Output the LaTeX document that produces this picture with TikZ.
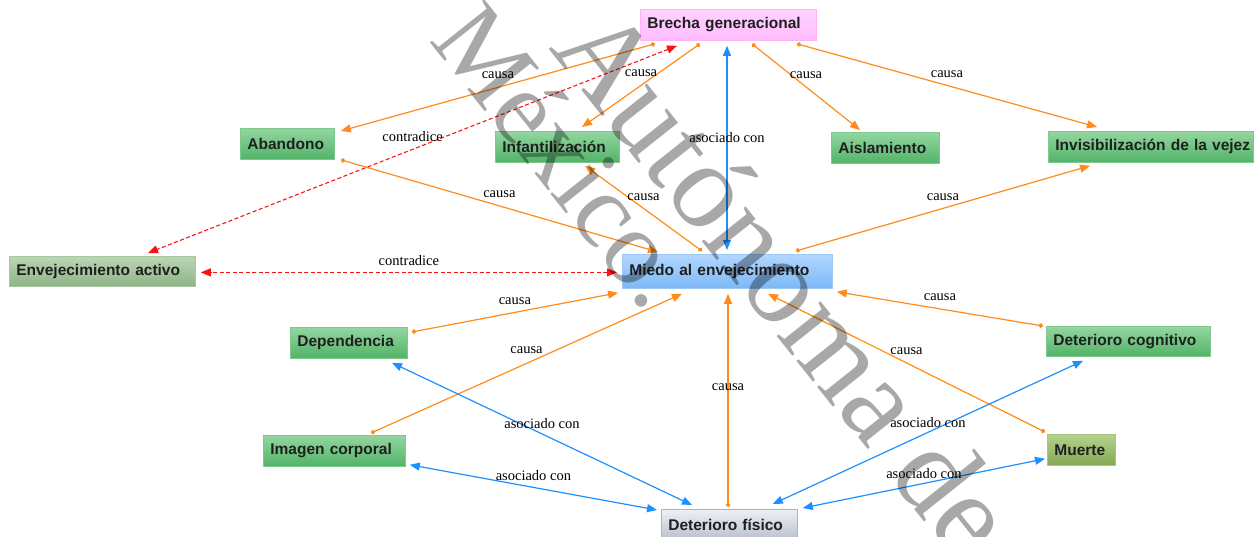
\documentclass[tikz,border=0pt]{standalone}
\usepackage{fontspec}
\setmainfont{Liberation Serif}
\newfontfamily\boxfont{Liberation Sans}
\newfontfamily\wmfont{Liberation Serif}
\usetikzlibrary{arrows.meta,calc}
\definecolor{corange}{HTML}{FF8C1A}
\definecolor{cblue}{HTML}{1E8FFF}
\definecolor{cred}{HTML}{FF1010}
\definecolor{gtop}{HTML}{93D6A0}
\definecolor{gbot}{HTML}{52B368}
\definecolor{gdraw}{HTML}{7FC98E}
\definecolor{etop}{HTML}{BBD6B4}
\definecolor{ebot}{HTML}{8FB388}
\definecolor{edraw}{HTML}{A8C8A0}
\definecolor{mtop}{HTML}{B4D28C}
\definecolor{mbot}{HTML}{84A853}
\definecolor{mdraw}{HTML}{A6C784}
\definecolor{btop}{HTML}{B2D7FF}
\definecolor{bbot}{HTML}{7CB8F6}
\definecolor{bdraw}{HTML}{9CC8F5}
\definecolor{ptop}{HTML}{FFD2FF}
\definecolor{pbot}{HTML}{FFBCFF}
\definecolor{pdraw}{HTML}{FFB4F4}
\definecolor{ftop}{HTML}{EEF0F5}
\definecolor{fbot}{HTML}{B9BECB}
\definecolor{fdraw}{HTML}{AEB3BF}
\begin{document}
\begin{tikzpicture}[x=1pt,y=-1pt,
  cbox/.style={draw, rectangle, anchor=north west, inner xsep=7pt, inner ysep=0pt,
    align=left, minimum height=31pt, line width=0.8pt,
    font=\boxfont\bfseries\fontsize{15.5}{18}\selectfont, text=black!88},
  greenbox/.style={cbox, top color=gtop, bottom color=gbot, draw=gdraw},
  envbox/.style={cbox, top color=etop, bottom color=ebot, draw=edraw},
  deathbox/.style={cbox, top color=mtop, bottom color=mbot, draw=mdraw},
  fearbox/.style={cbox, top color=btop, bottom color=bbot, draw=bdraw},
  pinkbox/.style={cbox, top color=ptop, bottom color=pbot, draw=pdraw},
  greybox/.style={cbox, top color=ftop, bottom color=fbot, draw=fdraw},
  causa/.style={draw=corange, line width=1.2pt, {Circle[length=4.5pt]}-{Triangle[length=10pt,width=8pt]}},
  asoc/.style={draw=cblue, line width=1.2pt, {Triangle[length=10pt,width=8pt]}-{Triangle[length=10pt,width=8pt]}},
  contra/.style={draw=cred, line width=1.1pt, dash pattern=on 4pt off 2.5pt, {Triangle[length=10pt,width=8pt]}-{Triangle[length=10pt,width=8pt]}},
  lbl/.style={font=\fontsize{14.5}{16}\selectfont, text=black, inner sep=0pt},
  wmark/.style={rotate=-51.5, anchor=base west, inner sep=0pt, text=black, text opacity=0.34}
]
\useasboundingbox (0,0) rectangle (1255,536);
\fill[white] (0,0) rectangle (1255,536);
\clip (0,0) rectangle (1255,536);

% nodes
\node[pinkbox, text width=162pt] (brecha) at (640,9) {\mbox{Brecha generacional}};
\node[greenbox, text width=80pt] (abandono) at (240,128) {\mbox{Abandono}};
\node[greenbox, text width=110pt] (infant) at (495,131) {\mbox{Infantilización}};
\node[greenbox, text width=94pt] (aisl) at (831,132) {\mbox{Aislamiento}};
\node[greenbox, text width=191pt] (invis) at (1048,131) {\mbox{Invisibilización de la vejez}};
\node[envbox, text width=172pt, minimum height=30pt] (envej) at (9,256) {\mbox{Envejecimiento activo}};
\node[fearbox, text width=196pt, minimum height=34pt] (miedo) at (622,254) {\mbox{Miedo al envejecimiento}};
\node[greenbox, text width=103pt] (depend) at (290,327) {\mbox{Dependencia}};
\node[greenbox, text width=128pt] (imagen) at (263,435) {\mbox{Imagen corporal}};
\node[greenbox, text width=150pt, minimum height=30pt] (detcog) at (1046,326) {\mbox{Deterioro cognitivo}};
\node[deathbox, text width=54pt] (muerte) at (1047,434) {\mbox{Muerte}};
\node[greybox, text width=122pt] (detfis) at (661,509) {\mbox{Deterioro físico}};

% causa edges
\draw[causa] ($(brecha.south west)+(15,3)$) -- node[lbl, pos=0.5, yshift=12pt] {causa} ($(abandono.north east)+(6,3)$);
\draw[causa] ($(brecha.south west)+(60,3)$) -- node[lbl, pos=0.5, yshift=12pt] {causa} ($(infant.north west)+(87,-4)$);
\draw[causa] ($(brecha.south west)+(112,3)$) -- node[lbl, pos=0.5, yshift=12pt] {causa} ($(aisl.north west)+(29,-2)$);
\draw[causa] ($(brecha.south east)+(-20,3)$) -- node[lbl, pos=0.5, yshift=11pt] {causa} ($(invis.north west)+(49,-4)$);
\draw[causa] ($(abandono.south east)+(6,0)$) -- node[lbl, pos=0.5, yshift=12pt] {causa} ($(miedo.north west)+(36,-2)$);
\draw[causa] ($(miedo.north west)+(80,-3)$) -- node[lbl, pos=0.5, yshift=11pt] {causa} ($(infant.south west)+(90,3)$);
\draw[causa] ($(miedo.north east)+(-37,-3)$) -- node[lbl, pos=0.5, yshift=11pt] {causa} ($(invis.south west)+(42,3)$);
\draw[causa] ($(depend.north east)+(4,5)$) -- node[lbl, pos=0.5, yshift=11pt] {causa} ($(miedo.south west)+(-4,4)$);
\draw[causa] ($(imagen.north west)+(108,-2)$) -- node[lbl, pos=0.5, yshift=13pt] {causa} ($(miedo.south west)+(60,5)$);
\draw[causa] ($(detfis.north west)+(67,-2)$) -- node[lbl, pos=0.5, yshift=13pt] {causa} ($(miedo.south west)+(106,5)$);
\draw[causa] ($(detcog.north west)+(-3,0)$) -- node[lbl, pos=0.5, yshift=12pt] {causa} ($(miedo.south east)+(4,3)$);
\draw[causa] ($(muerte.north west)+(-2,-2)$) -- node[lbl, pos=0.5, yshift=12pt] {causa} ($(miedo.south west)+(146,5)$);

% asociado con edges
\draw[asoc] ($(miedo.north west)+(105,-4)$) -- node[lbl, pos=0.5, yshift=10pt] {asociado con} ($(brecha.south west)+(87,5)$);
\draw[asoc] ($(depend.south west)+(102,4)$) -- node[lbl, pos=0.5, yshift=10pt] {asociado con} ($(detfis.north west)+(31,-4)$);
\draw[asoc] ($(imagen.south east)+(4,-2)$) -- node[lbl, pos=0.5, yshift=12pt] {asociado con} ($(detfis.north west)+(-4,1)$);
\draw[asoc] ($(detcog.south west)+(37,4)$) -- node[lbl, pos=0.5, yshift=10pt] {asociado con} ($(detfis.north east)+(-25,-5)$);
\draw[asoc] ($(muerte.south west)+(-2,-7)$) -- node[lbl, pos=0.5, yshift=10pt] {asociado con} ($(detfis.north east)+(5,-1)$);

% contradice edges
\draw[contra] ($(miedo.west)+(-5,1)$) -- node[lbl, pos=0.5, yshift=12pt] {contradice} ($(envej.east)+(5,1)$);
\draw[contra] ($(brecha.south west)+(37,5)$) -- node[lbl, pos=0.5, yshift=13pt] {contradice} ($(envej.north west)+(139,-3)$);

% watermark
\node[wmark, font=\wmfont\fontsize{122}{122}\selectfont] (wma) at (548,48) {Autónoma de};
\node[wmark, font=\wmfont\fontsize{106}{106}\selectfont] (wmb) at (428,40) {México.};
\end{tikzpicture}
\end{document}
